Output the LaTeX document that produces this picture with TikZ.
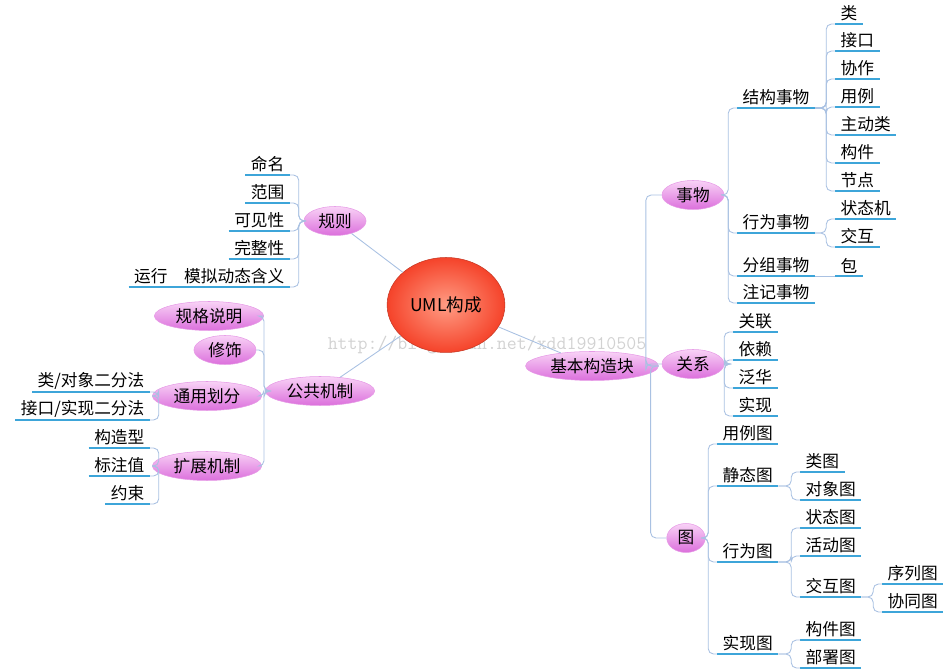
\documentclass[tikz,border=0pt]{standalone}
\usepackage{fontspec}
\setmainfont{Noto Sans CJK SC}
\usetikzlibrary{positioning}
\usetikzlibrary{shapes.geometric}

\definecolor{linkblue}{HTML}{A9C1E2}
\definecolor{lineblue}{HTML}{3DA5D9}
\definecolor{pinktop}{HTML}{F8D2F6}
\definecolor{pinkbot}{HTML}{DC6FDC}
\definecolor{redin}{HTML}{FF9C84}
\definecolor{redout}{HTML}{F5432A}

\tikzset{
  link/.style={linkblue, line width=0.5pt, rounded corners=3pt},
  uline/.style={lineblue, line width=1.3pt},
  leafR/.style={anchor=south west, inner xsep=3pt, inner ysep=1.5pt,
    append after command={(\tikzlastnode.south west) edge[uline] (\tikzlastnode.south east)}},
  leafL/.style={anchor=south east, inner xsep=3pt, inner ysep=1.5pt,
    append after command={(\tikzlastnode.south west) edge[uline] (\tikzlastnode.south east)}},
  bubble/.style={ellipse, top color=pinktop, bottom color=pinkbot, draw=pinkbot!70,
    line width=0.3pt, inner xsep=3pt, inner ysep=0pt, minimum height=0.58cm},
}

% right-side joins: parent to child underline start
\newcommand\joinR[2]{\draw[link] (#1) -| ([xshift=-5pt]#2.south west) -- (#2.south west);}
\newcommand\joinL[2]{\draw[link] (#1) -| ([xshift=5pt]#2.south east) -- (#2.south east);}

\begin{document}
\begin{tikzpicture}[x=0.02cm, y=-0.02cm, font=\fontsize{9.5}{11}\selectfont]
\useasboundingbox (0,0) rectangle (950,671);

% watermark
\node[text=gray!35, font=\ttfamily\fontsize{11}{12}\selectfont] (mark) at (487,345) {http://blog.csdn.net/xdd19910505};

% ========================
% CENTRE
% ========================
\node[ellipse, inner color=redin, outer color=redout, draw=redout!80!black, line width=0.3pt,
  minimum width=2.08cm, minimum height=1.9cm,
  font=\fontsize{10}{12}\selectfont] (uml) at (446,305) {UML构成};

\node[bubble] (rule) at (335,221) {规则};
\node[bubble] (common) at (320,391) {公共机制};
\node[bubble] (block) at (592,366) {基本构造块};

\draw[link] (uml) -- (rule);
\draw[link] (uml) -- (common);
\draw[link] (uml) -- (block);

% ========================
% RIGHT: building blocks
% ========================
\node[bubble] (thing) at (693,195) {事物};
\node[bubble] (rel) at (693,364) {关系};
\node[bubble] (diag) at (686,538) {图};
\foreach \c in {thing,rel,diag}
  {\draw[link] (block.east) -| ([xshift=-9pt]\c.west) -- (\c.west);}

% things
\node[leafR] (struct) at (737,108) {结构事物};
\node[leafR] (behav) at (737,233) {行为事物};
\node[leafR] (group) at (737,276) {分组事物};
\node[leafR] (note) at (737,303) {注记事物};
\foreach \c in {struct,behav,group,note} {\joinR{thing.east}{\c}}

\node[leafR] (cls) at (835,24) {类};
\node[leafR] (iface) at (835,51) {接口};
\node[leafR] (collab) at (835,79) {协作};
\node[leafR] (ucase) at (835,107) {用例};
\node[leafR] (active) at (835,135) {主动类};
\node[leafR] (comp) at (835,163) {构件};
\node[leafR] (nodeh) at (835,191) {节点};
\foreach \c in {cls,iface,collab,ucase,active,comp,nodeh} {\joinR{struct.south east}{\c}}

\node[leafR] (smach) at (835,219) {状态机};
\node[leafR] (inter) at (835,247) {交互};
\foreach \c in {smach,inter} {\joinR{behav.south east}{\c}}

\node[leafR] (pkg) at (835,276) {包};
\draw[link] (group.south east) -- (pkg.south west);

% relations
\node[leafR] (assoc) at (733,332) {关联};
\node[leafR] (dep) at (733,360) {依赖};
\node[leafR] (gen) at (733,388) {泛华};
\node[leafR] (real) at (733,416) {实现};
\foreach \c in {assoc,dep,gen,real} {\joinR{rel.east}{\c}}

% diagrams
\node[leafR] (ucd) at (717,444) {用例图};
\node[leafR] (stat) at (717,486) {静态图};
\node[leafR] (bhd) at (717,562) {行为图};
\node[leafR] (impd) at (717,654) {实现图};
\foreach \c in {ucd,stat,bhd,impd} {\joinR{diag.east}{\c}}

\node[leafR] (clsd) at (800,472) {类图};
\node[leafR] (objd) at (800,500) {对象图};
\foreach \c in {clsd,objd} {\joinR{stat.south east}{\c}}

\node[leafR] (std) at (800,528) {状态图};
\node[leafR] (actd) at (800,556) {活动图};
\node[leafR] (intd) at (800,597) {交互图};
\foreach \c in {std,actd,intd} {\joinR{bhd.south east}{\c}}

\node[leafR] (seqd) at (882,584) {序列图};
\node[leafR] (cold) at (882,612) {协同图};
\foreach \c in {seqd,cold} {\joinR{intd.south east}{\c}}

\node[leafR] (cpd) at (800,640) {构件图};
\node[leafR] (dpd) at (800,668) {部署图};
\foreach \c in {cpd,dpd} {\joinR{impd.south east}{\c}}

% ========================
% LEFT: rules
% ========================
\node[leafL] (name) at (290,175) {命名};
\node[leafL] (scope) at (290,203) {范围};
\node[leafL] (vis) at (290,231) {可见性};
\node[leafL] (compl) at (290,259) {完整性};
\node[leafL] (run) at (290,287) {运行\quad 模拟动态含义};
\foreach \c in {name,scope,vis,compl,run} {\joinL{rule.west}{\c}}

% ========================
% LEFT: common mechanisms
% ========================
\node[bubble] (spec) at (209,316) {规格说明};
\node[bubble] (adorn) at (225,350) {修饰};
\node[bubble] (div) at (207,396) {通用划分};
\node[bubble] (ext) at (207,466) {扩展机制};
\coordinate (bus) at (264,391);
\foreach \c in {spec,adorn,div,ext}
  {\draw[link] (common.west) -- (bus) |- (\c.east);}

\node[leafL] (clsobj) at (150,392) {类/对象二分法};
\node[leafL] (ifimp) at (150,420) {接口/实现二分法};
\foreach \c in {clsobj,ifimp} {\joinL{div.west}{\c}}

\node[leafL] (stereo) at (150,448) {构造型};
\node[leafL] (tag) at (150,476) {标注值};
\node[leafL] (constr) at (150,504) {约束};
\foreach \c in {stereo,tag,constr} {\joinL{ext.west}{\c}}

\end{tikzpicture}
\end{document}
